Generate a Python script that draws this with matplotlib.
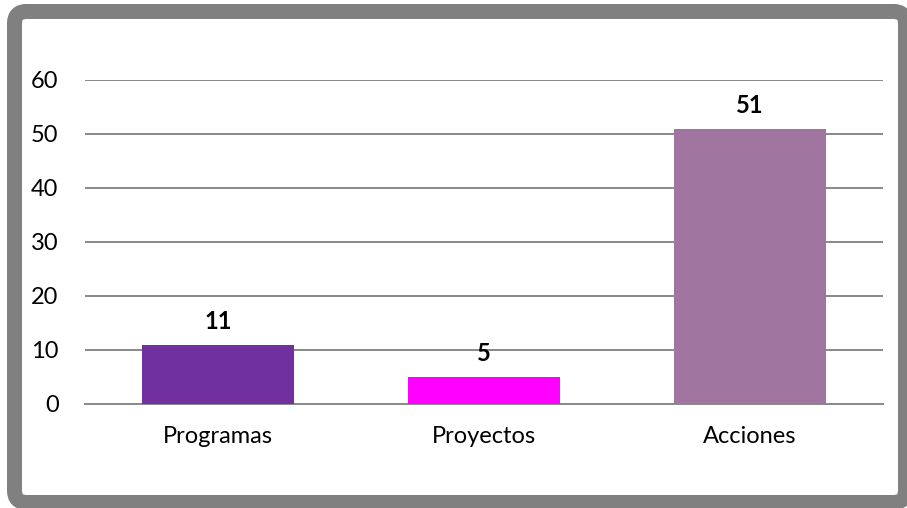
import matplotlib.pyplot as plt
from matplotlib.patches import FancyBboxPatch

# datos del grafico
categorias = ['Programas', 'Proyectos', 'Acciones']
valores = [11, 5, 51]
colores = ['#7030A0', '#FF00FF', '#A076A0']

plt.rcParams['font.family'] = ['Lato', 'DejaVu Sans']

fig = plt.figure(figsize=(9.07, 5.08), dpi=100)
# marco gris redondeado alrededor del grafico
marco = FancyBboxPatch((0.145, 0.055), 8.91, 4.91,
                       boxstyle='round,pad=0,rounding_size=0.12',
                       transform=fig.dpi_scale_trans, facecolor='none',
                       edgecolor='#808080', linewidth=10.8, zorder=0)
fig.patches.append(marco)

ax = fig.add_axes([85 / 907, 1 - 404 / 508, 798 / 907, 324 / 508])
ax.set_zorder(2)
ax.set_facecolor('none')
x = range(len(categorias))
barras = ax.bar(x, valores, width=0.575, color=colores, zorder=3)
ax.set_xlim(-0.5, 2.5)
ax.set_ylim(0, 60)
ax.set_yticks(range(0, 61, 10))
ax.set_xticks(list(x))
ax.set_xticklabels(categorias)
ax.yaxis.grid(True, color='#888888', linewidth=1.4, zorder=0)
ax.set_axisbelow(True)
for s in ['top', 'right', 'left']:
    ax.spines[s].set_visible(False)
ax.spines['bottom'].set_color('#888888')
ax.spines['bottom'].set_linewidth(1.4)
ax.tick_params(axis='both', length=0, labelsize=17, colors='black')
ax.tick_params(axis='y', pad=19)
ax.tick_params(axis='x', pad=16)

# etiquetas de valor encima de cada barra
for b, v in zip(barras, valores):
    ax.text(b.get_x() + b.get_width() / 2, v + 2.2, str(v), ha='center', va='bottom',
            fontsize=17, fontweight='bold')

fig.savefig('out.png', dpi=100)
